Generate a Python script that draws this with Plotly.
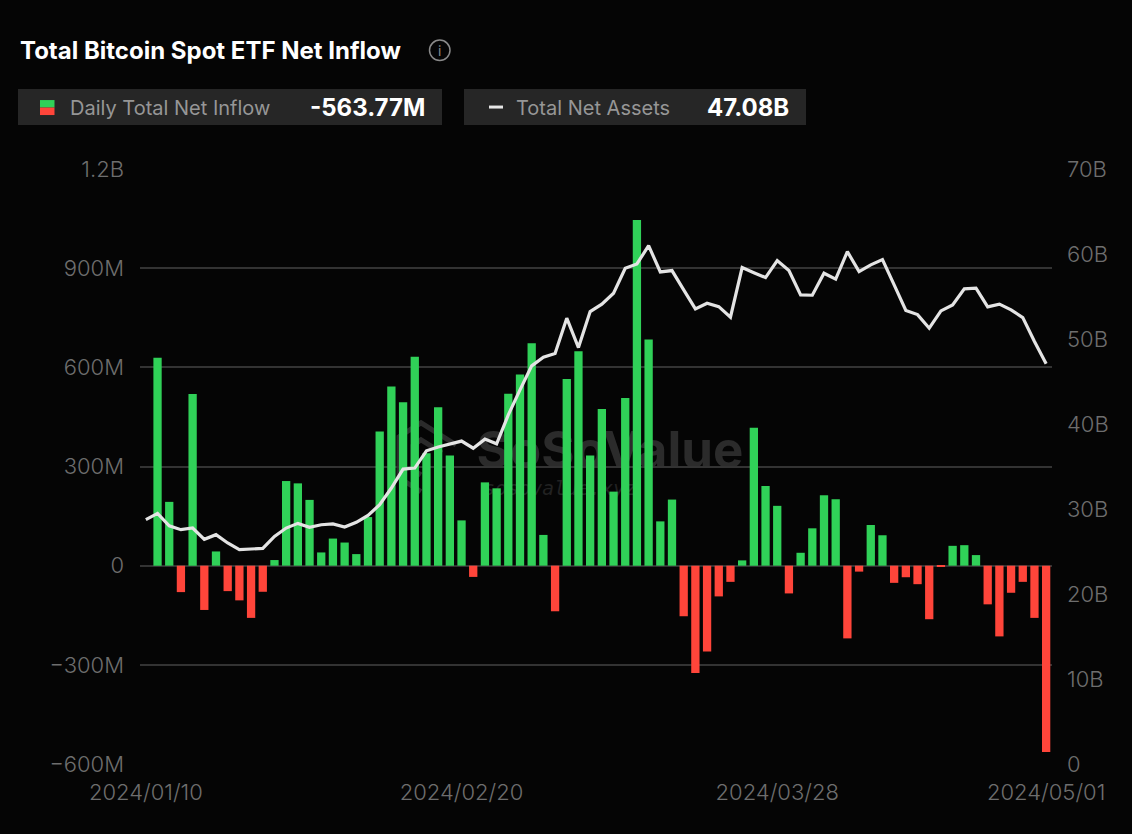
import plotly.graph_objects as go

W, H = 1132, 834
L, R, T, B = 140, 1052, 169, 764.5

dates = [
    "2024/01/10", "2024/01/11", "2024/01/12", "2024/01/16", "2024/01/17", "2024/01/18", "2024/01/19",
    "2024/01/22", "2024/01/23", "2024/01/24", "2024/01/25", "2024/01/26", "2024/01/29", "2024/01/30",
    "2024/01/31", "2024/02/01", "2024/02/02", "2024/02/05", "2024/02/06", "2024/02/07", "2024/02/08",
    "2024/02/09", "2024/02/12", "2024/02/13", "2024/02/14", "2024/02/15", "2024/02/16", "2024/02/20",
    "2024/02/21", "2024/02/22", "2024/02/23", "2024/02/26", "2024/02/27", "2024/02/28", "2024/02/29",
    "2024/03/01", "2024/03/04", "2024/03/05", "2024/03/06", "2024/03/07", "2024/03/08", "2024/03/11",
    "2024/03/12", "2024/03/13", "2024/03/14", "2024/03/15", "2024/03/18", "2024/03/19", "2024/03/20",
    "2024/03/21", "2024/03/22", "2024/03/25", "2024/03/26", "2024/03/27", "2024/03/28", "2024/04/01",
    "2024/04/02", "2024/04/03", "2024/04/04", "2024/04/05", "2024/04/08", "2024/04/09", "2024/04/10",
    "2024/04/11", "2024/04/12", "2024/04/15", "2024/04/16", "2024/04/17", "2024/04/18", "2024/04/19",
    "2024/04/22", "2024/04/23", "2024/04/24", "2024/04/25", "2024/04/26", "2024/04/29", "2024/04/30",
    "2024/05/01",
]

# daily net inflow, in millions (no flow on the first date)
net_inflow = [
    0, 629, 193, -80, 519, -134, 43, -77, -105, -158, -79, 17, 256, 249, 199, 40, 82, 70, 35, 147,
    406, 542, 494, 632, 340, 479, 333, 137, -34, 252, 234, 520, 578, 673, 93, -138, 565, 649, 333,
    474, 224, 507, 1046, 684, 134, 200, -153, -325, -260, -93, -49, 16, 417, 241, 181, -84, 39, 113,
    213, 201, -220, -18, 123, 92, -52, -35, -56, -162, -4, 60, 62, 32, -117, -214, -82, -49, -158,
    -563.77,
]

# total net assets, in billions
net_assets = [
    28.74, 29.48, 28.03, 27.57, 27.76, 26.43, 26.98, 26.0, 25.21, 25.33, 25.37, 26.78, 27.76, 28.31,
    27.84, 28.15, 28.24, 27.88, 28.43, 29.25, 30.5, 32.47, 34.7, 34.82, 36.85, 37.29, 37.67, 37.99,
    37.15, 38.22, 37.67, 41.08, 44.02, 46.84, 47.86, 48.29, 52.45, 48.99, 53.23, 54.1, 55.39, 58.33,
    58.83, 60.98, 57.89, 58.05, 55.78, 53.54, 54.21, 53.81, 52.57, 58.4, 57.8, 57.23, 59.23, 58.05,
    55.19, 55.15, 57.74, 57.04, 60.28, 57.93, 58.72, 59.34, 56.37, 53.35, 52.87, 51.27, 53.31, 54.01,
    55.9, 55.98, 53.78, 54.1, 53.43, 52.52, 49.7, 47.08,
]

x_ticks = ["2024/01/10", "2024/02/20", "2024/03/28", "2024/05/01"]
left_vals = [-600, -300, 0, 300, 600, 900, 1200]
left_text = ["\u2212600M", "\u2212300M", "0", "300M", "600M", "900M", "1.2B"]
right_vals = [0, 10, 20, 30, 40, 50, 60, 70]
right_text = ["0", "10B", "20B", "30B", "40B", "50B", "60B", "70B"]

BG = "#050505"
GREEN = "#30d158"
RED = "#ff453a"
GRID = "#333333"
TICK = "#6e6e6e"
CHIP = "#262626"
MARK = "#2b2b2b"
TICK_FONT = dict(family="Inter", size=22, color=TICK, weight=300)


# paper coordinates are relative to the plot area, so convert from page pixels
def px(x):
    return (x - L) / (R - L)


def py(y):
    return (B - y) / (B - T)


def paper_rect(x0, y0, x1, y1, color):
    return dict(type="rect", xref="paper", yref="paper", x0=px(x0), x1=px(x1), y0=py(y0), y1=py(y1),
                fillcolor=color, line_width=0, layer="above")


def paper_text(x, y, text, size, color, anchor="left", weight=400):
    return dict(xref="paper", yref="paper", x=px(x), y=py(y), text=text, showarrow=False,
                xanchor=anchor, yanchor="middle", xshift=0,
                font=dict(family="Inter", size=size, color=color, weight=weight))


def watermark(x0, y0, x1, y1, text, font):
    # label on a shape so that it sits under the bars
    return dict(type="rect", xref="paper", yref="paper", x0=px(x0), x1=px(x1), y0=py(y0), y1=py(y1),
                line_width=0, fillcolor="rgba(0,0,0,0)", layer="below",
                label=dict(text=text, textposition="middle center", font=font))


def logo_path(points):
    coords = ["%s%.4f,%.4f" % ("L" if i else "M", px(x), py(y)) for i, (x, y) in enumerate(points)]
    return dict(type="path", xref="paper", yref="paper", path=" ".join(coords),
                line=dict(color=MARK, width=5), layer="below")


fig = go.Figure()
fig.add_trace(go.Bar(x=dates, y=net_inflow, yaxis="y",
                     marker=dict(color=[GREEN if v >= 0 else RED for v in net_inflow], line_width=0),
                     width=0.71))
fig.add_trace(go.Scatter(x=dates, y=net_assets, yaxis="y2", mode="lines",
                         line=dict(color="#e4e4e4", width=3.2)))

shapes = [
    paper_rect(18, 89, 442, 125, CHIP),
    paper_rect(464, 89, 806, 125, CHIP),
    paper_rect(40, 100, 54.5, 107.5, GREEN),
    paper_rect(40, 107.5, 54.5, 115, RED),
    paper_rect(489, 105.5, 503, 108.5, "#e6e6e6"),
    dict(type="circle", xref="paper", yref="paper", x0=px(429.5), x1=px(450), y0=py(40), y1=py(60.5),
         line=dict(color="#8a8a8a", width=1.5), layer="above"),
    logo_path([(456, 445), (421, 423), (399, 437), (399, 478), (421, 492)]),
    logo_path([(442, 453), (421, 440), (413, 446), (413, 470), (421, 475)]),
    watermark(470, 423, 750, 473, "SoSoValue",
              dict(family="Inter", size=51, color=MARK, weight=700)),
    watermark(470, 476, 650, 498, "sosovalue.xyz",
              dict(family="DejaVu Sans Mono", size=19.6, color="#222222", style="italic")),
]

annotations = [
    paper_text(18, 50, "Total Bitcoin Spot ETF Net Inflow", 24, "#ffffff", weight=700),
    paper_text(439.7, 50, "i", 14, "#8a8a8a", anchor="center"),
    paper_text(68, 107.5, "Daily Total Net Inflow", 20, "#969696"),
    paper_text(427, 107.5, "-563.77M", 24, "#ffffff", anchor="right", weight=700),
    paper_text(514, 107.5, "Total Net Assets", 20, "#969696"),
    paper_text(791, 107.5, "47.08B", 24, "#ffffff", anchor="right", weight=700),
]

fig.update_layout(
    width=W, height=H,
    margin=dict(l=L, r=W - R, t=T, b=H - B, pad=0),
    paper_bgcolor=BG, plot_bgcolor=BG,
    showlegend=False,
    shapes=shapes,
    annotations=annotations,
    xaxis=dict(type="category", categoryorder="array", categoryarray=dates, range=[-0.5, 77.5],
               tickmode="array", tickvals=x_ticks, ticktext=x_ticks, showgrid=False, zeroline=False,
               showline=False, ticks="", tickangle=0, tickfont=TICK_FONT, ticklabelstandoff=13),
    yaxis=dict(range=[-600, 1200], tickmode="array", tickvals=left_vals, ticktext=left_text,
               gridcolor=GRID, gridwidth=2, zeroline=False, showline=False, ticks="",
               tickfont=TICK_FONT, ticklabelstandoff=15),
    yaxis2=dict(range=[0, 70], overlaying="y", side="right", tickmode="array", tickvals=right_vals,
                ticktext=right_text, showgrid=False, zeroline=False, showline=False, ticks="",
                tickfont=TICK_FONT, ticklabelstandoff=14),
)

fig.write_html("out.html", config={"displayModeBar": False},
               post_script="document.body.style.margin='0';document.body.style.background='%s';" % BG)
